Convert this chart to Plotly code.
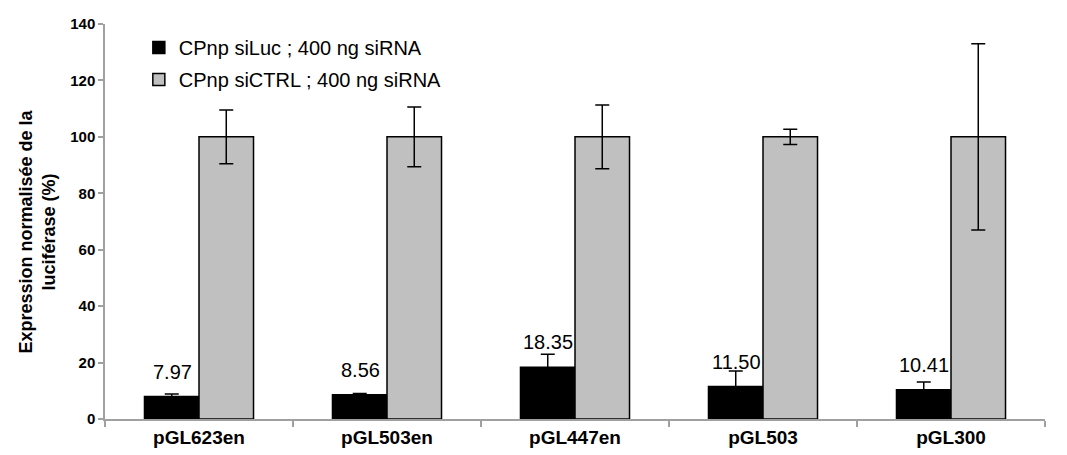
import plotly.graph_objects as go

categories = ["pGL623en", "pGL503en", "pGL447en", "pGL503", "pGL300"]
siluc_values = [7.97, 8.56, 18.35, 11.50, 10.41]
siluc_errors = [0.9, 0.5, 4.6, 5.5, 2.7]
sictrl_values = [100, 100, 100, 100, 100]
sictrl_errors = [9.5, 10.6, 11.3, 2.7, 33.0]
series_names = ["CPnp siLuc ; 400 ng siRNA", "CPnp siCTRL ; 400 ng siRNA"]
y_ticks = [0, 20, 40, 60, 80, 100, 120, 140]

FONT = "Liberation Sans, Arial, sans-serif"

fig = go.Figure()
fig.add_trace(go.Bar(
    x=categories, y=siluc_values, name=series_names[0],
    marker=dict(color="#000000", line=dict(color="#000000", width=1.5)),
    error_y=dict(type="data", array=siluc_errors, visible=True,
                 color="#000000", thickness=1.5, width=7),
    legendgroup="a",
))
fig.add_trace(go.Bar(
    x=categories, y=sictrl_values, name=series_names[1],
    marker=dict(color="#C0C0C0", line=dict(color="#000000", width=1.5)),
    error_y=dict(type="data", array=sictrl_errors, visible=True,
                 color="#000000", thickness=1.5, width=7),
    legendgroup="b",
))

for c, v in zip(categories, siluc_values):
    fig.add_annotation(x=c, y=v, xref="x", yref="y", text=f"{v:.2f}",
                       showarrow=False, xshift=-27, yshift=25,
                       font=dict(family=FONT, size=20, color="#000000"))

fig.add_annotation(
    x=0, y=0.5, xref="paper", yref="paper", xanchor="center", yanchor="middle",
    xshift=-68, yshift=-10, textangle=-90, showarrow=False,
    text="<b>Expression normalisée de la<br>luciférase (%)</b>",
    font=dict(family=FONT, size=18, color="#000000"),
)

fig.update_layout(
    width=1059, height=447,
    margin=dict(l=97, r=22, t=16, b=36, autoexpand=False),
    paper_bgcolor="white", plot_bgcolor="white",
    barmode="group", bargap=0.42, bargroupgap=0,
    font=dict(family=FONT, color="#000000"),
    showlegend=True,
    legend=dict(x=0.036, y=0.99, xanchor="left", yanchor="top",
                font=dict(family=FONT, size=20, color="#000000"),
                bgcolor="rgba(0,0,0,0)", tracegroupgap=3,
                traceorder="grouped"),
    xaxis=dict(
        automargin=False,
        showline=True, linecolor="#A0A0A0", linewidth=1.5,
        ticks="outside", tickson="boundaries", ticklen=6, tickcolor="#A0A0A0",
        tickwidth=1.5,
        tickfont=dict(family=FONT, size=19, color="#000000", weight="bold"),
        showgrid=False, zeroline=False,
    ),
    yaxis=dict(
        automargin=False,
        range=[0, 140], tickvals=y_ticks,
        showline=True, linecolor="#A0A0A0", linewidth=1.5,
        ticks="outside", ticklen=5, tickcolor="#A0A0A0", tickwidth=1.5,
        tickfont=dict(family=FONT, size=15, color="#000000", weight="bold"),
        showgrid=False, zeroline=False,
    ),
)

fig.write_html("out.html")
